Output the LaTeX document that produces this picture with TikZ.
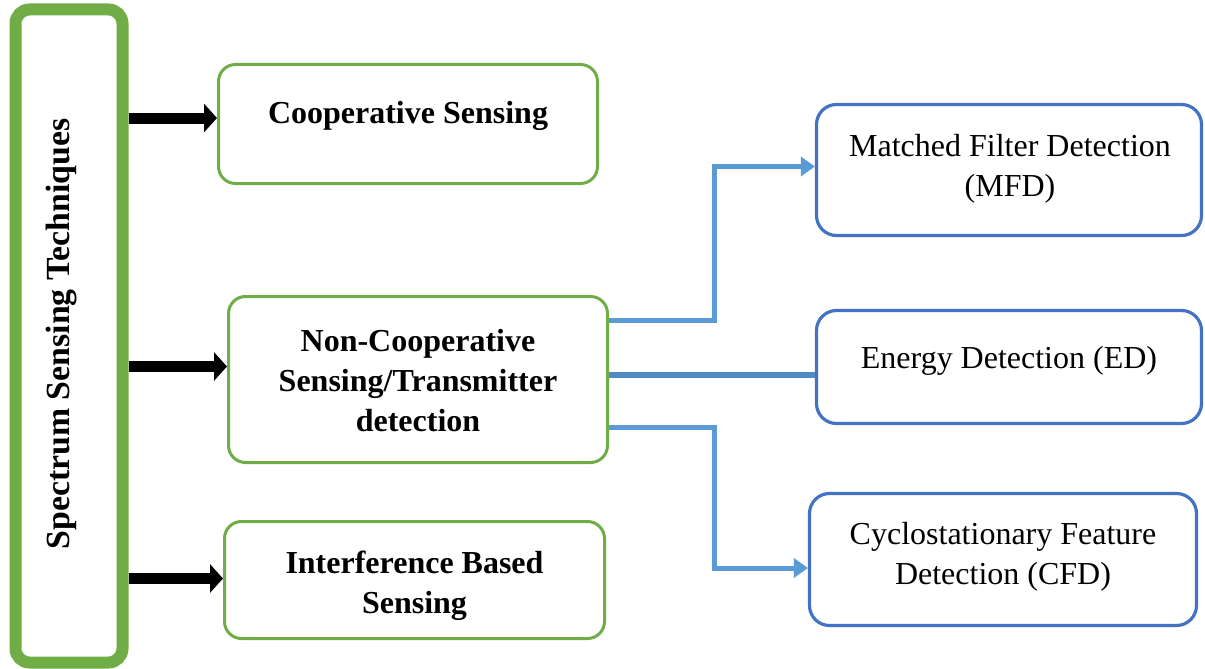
\documentclass[tikz,border=0pt]{standalone}
\usepackage{fontspec}
\setmainfont{Liberation Serif}
\usetikzlibrary{arrows.meta}
\definecolor{grn}{RGB}{112,173,71}
\definecolor{bdr}{RGB}{68,114,196}
\definecolor{lnk}{RGB}{91,155,213}
\definecolor{lnkd}{RGB}{80,138,196}
\tikzset{
  gbox/.style={draw=grn, line width=3pt, rounded corners=17pt, rectangle},
  bbox/.style={draw=bdr, line width=3.2pt, rounded corners=20pt, rectangle},
  txt/.style={font=\fontsize{32}{40}\selectfont, align=center, inner sep=0pt},
  btxt/.style={txt, font=\fontsize{32}{40}\selectfont\bfseries},
  blk/.style={line width=11pt, -{Triangle[length=13pt,width=28pt]}},
  lk/.style={draw=lnk, line width=5pt, -{Triangle[length=14pt,width=19pt]}},
  lkd/.style={draw=lnkd, line width=6pt},
}
\begin{document}
\begin{tikzpicture}[x=1pt, y=-1pt]
\fill[white] (0,0) rectangle (1205,669);
\useasboundingbox (0,0) rectangle (1205,669);

% outer column
\node[draw=grn, line width=12pt, rounded corners=14pt, minimum width=107pt, minimum height=653pt] (sst) at (69,336) {};
\node[btxt, font=\fontsize{33.8}{40}\selectfont\bfseries, rotate=90] (sstT) at (62,334) {Spectrum Sensing Techniques};

% green boxes
\node[gbox, minimum width=379pt, minimum height=119pt] (coop) at (408,124) {};
\node[btxt] (coopT) at (408,116) {Cooperative Sensing};

\node[gbox, minimum width=379pt, minimum height=166pt] (nc) at (418,379.5) {};
\node[btxt] (ncT) at (418,380.5) {Non-Cooperative\\Sensing/Transmitter\\detection};

\node[gbox, minimum width=380pt, minimum height=117pt] (ibs) at (414.5,580) {};
\node[btxt] (ibsT) at (414.5,586) {Interference Based\\Sensing};

% blue boxes
\node[bbox, minimum width=385pt, minimum height=131pt] (mfd) at (1009,170) {};
\node[txt] (mfdT) at (1010,168.5) {Matched Filter Detection\\(MFD)};

\node[bbox, minimum width=385pt, minimum height=113pt] (ed) at (1009,367) {};
\node[txt] (edT) at (1009,361) {Energy Detection (ED)};

\node[bbox, minimum width=387pt, minimum height=132pt] (cfd) at (1003,559.5) {};
\node[txt] (cfdT) at (1003,557) {Cyclostationary Feature\\Detection (CFD)};

% black arrows
\draw[blk] (sst.east |- 0,118) -- (coop.west |- 0,118);
\draw[blk] (sst.east |- 0,366.5) -- (nc.west |- 0,366.5);
\draw[blk] (sst.east |- 0,578.5) -- (ibs.west |- 0,578.5);

% blue connectors
\coordinate (bend) at (714,0);
\draw[lk] (nc.east |- 0,320) -- (bend |- 0,320) |- (mfd.west |- 0,166.5);
\draw[lkd] (nc.east |- 0,374.5) -- (ed.west |- 0,374.5);
\draw[lk] (nc.east |- 0,427.5) -- (bend |- 0,427.5) |- (cfd.west |- 0,568);
\end{tikzpicture}
\end{document}
